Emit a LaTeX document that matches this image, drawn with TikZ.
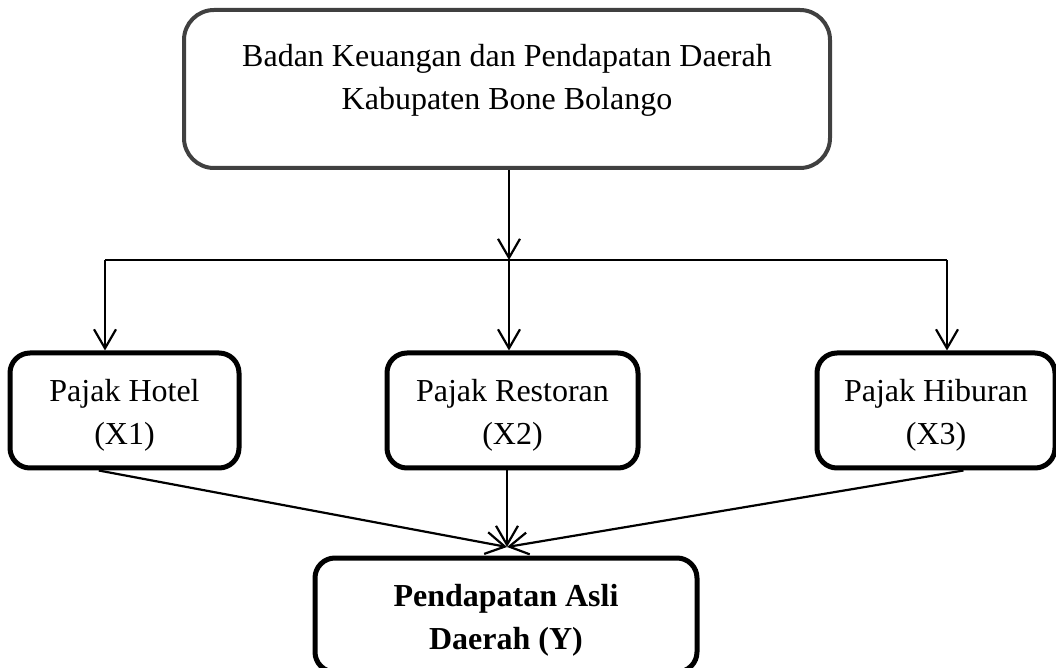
\documentclass[tikz,border=0pt]{standalone}
\usepackage{fontspec}
\setmainfont{Liberation Serif}
\usetikzlibrary{arrows.meta,calc}
\begin{document}
\begin{tikzpicture}[x=0.5pt,y=-0.5pt,
  txt/.style={font=\fontsize{16pt}{21.5pt}\selectfont, align=center, inner sep=0pt},
  topbox/.style={draw=black!75, line width=2pt, rounded corners=15pt, inner sep=0pt},
  varbox/.style={draw=black, line width=2.5pt, rounded corners=10pt, inner sep=0pt},
  conn/.style={line width=1.1pt, -{Straight Barb[length=9.5pt,width=11pt,line width=1.1pt]}},
  plain/.style={line width=1.1pt}]
\useasboundingbox (0,0) rectangle (1056,668);
\node[topbox, minimum width=323pt, minimum height=79pt] (top) at (507,89) {};
\node[txt] (toptext) at (507,80) {Badan Keuangan dan Pendapatan Daerah\\Kabupaten Bone Bolango};
\node[varbox, minimum width=114.5pt, minimum height=57.5pt] (b1) at (124.5,410.5) {};
\node[varbox, minimum width=125.5pt, minimum height=57.5pt] (b2) at (512.5,410.5) {};
\node[varbox, minimum width=119pt, minimum height=57.5pt] (b3) at (936,410.5) {};
\node[varbox, minimum width=191pt, minimum height=57pt] (y) at (506,615) {};
\node[txt] (t1) at ($(b1.center)+(0,5)$) {Pajak Hotel\\(X1)};
\node[txt] (t2) at ($(b2.center)+(0,5)$) {Pajak Restoran\\(X2)};
\node[txt] (t3) at ($(b3.center)+(0,5)$) {Pajak Hiburan\\(X3)};
\node[txt, font=\fontsize{16pt}{21.5pt}\selectfont\bfseries] (ty) at ($(y.center)+(0,5)$) {Pendapatan Asli\\Daerah (Y)};
\coordinate (j0) at (509,260);
\coordinate (j1) at (105,260);
\coordinate (j3) at (947,260);
\coordinate (c) at (507,547);
\draw[conn] (j0 |- top.south) -- (j0);
\draw[plain] (j1) -- (j3);
\draw[conn] (j1) -- (j1 |- b1.north);
\draw[conn] (j0) -- (j0 |- b2.north);
\draw[conn] (j3) -- (j3 |- b3.north);
\draw[conn] ($(b1.south west)!0.39!(b1.south east)$) -- (c);
\draw[conn] (c |- b2.south) -- (c);
\draw[conn] ($(b3.south west)!0.613!(b3.south east)$) -- (c);
\end{tikzpicture}
\end{document}
